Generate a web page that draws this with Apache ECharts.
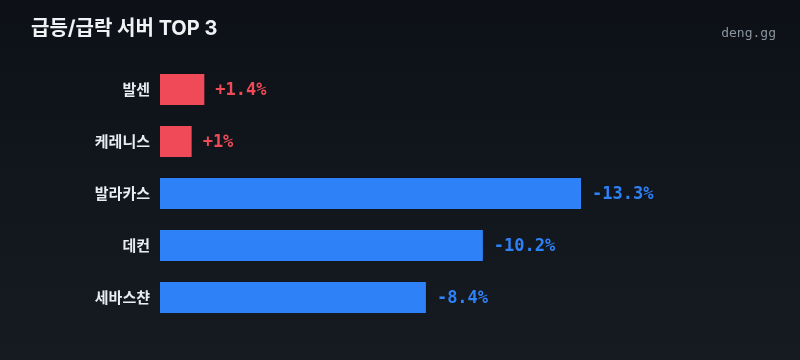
<!DOCTYPE html>
<html><head><meta charset="utf-8">
<script src="https://cdn.jsdelivr.net/npm/echarts@6/dist/echarts.min.js"></script>
<style>html,body{margin:0;padding:0;background:#0d1117}#c{width:800px;height:360px}</style>
</head><body><div id="c"></div>
<script>
const servers = ['발센', '케레니스', '발라카스', '데컨', '세바스챤'];
const changes = [1.4, 1, -13.3, -10.2, -8.4];
const titleText = '급등/급락 서버 TOP 3';
const brandText = 'deng.gg';

const UP = '#f04a58', DOWN = '#2f81f7';
const chart = echarts.init(document.getElementById('c'), null, {renderer: 'canvas'});
chart.setOption({
  animation: false,
  backgroundColor: new echarts.graphic.LinearGradient(0, 0, 0, 1, [
    {offset: 0, color: '#0d1117'}, {offset: 1, color: '#161b22'}]),
  title: [{
    text: titleText, left: 26, top: 14,
    textStyle: {color: '#f0f3f6', fontSize: 20, fontWeight: 'bold', fontFamily: 'Inter, "Noto Sans CJK KR", sans-serif'}
  }, {
    text: brandText, right: 19, top: 22,
    textStyle: {color: '#8b949e', fontSize: 13, fontWeight: 'normal', fontFamily: '"DejaVu Sans Mono", monospace'}
  }],
  grid: {left: 160, right: 219, top: 63.5, bottom: 36.5, containLabel: false},
  xAxis: {type: 'value', min: 0, max: v => v.max, show: false},
  yAxis: {
    type: 'category', data: servers, inverse: true,
    axisLine: {show: false}, axisTick: {show: false}, splitLine: {show: false},
    axisLabel: {color: '#e6edf3', fontSize: 15, fontWeight: 'bold', margin: 10,
      padding: [2, 0, 0, 0],
      fontFamily: '"Noto Sans CJK KR", sans-serif'}
  },
  series: [{
    type: 'bar', barCategoryGap: '40%',
    data: changes.map(v => ({value: Math.abs(v),
      itemStyle: {color: v >= 0 ? UP : DOWN},
      label: {color: v >= 0 ? UP : DOWN}})),
    label: {
      show: true, position: 'right', distance: 11, offset: [0, 1],
      fontFamily: '"DejaVu Sans Mono", monospace', fontSize: 17, fontWeight: 'bold',
      formatter: p => (changes[p.dataIndex] >= 0 ? '+' : '') + changes[p.dataIndex] + '%'
    }
  }]
});
</script></body></html>
